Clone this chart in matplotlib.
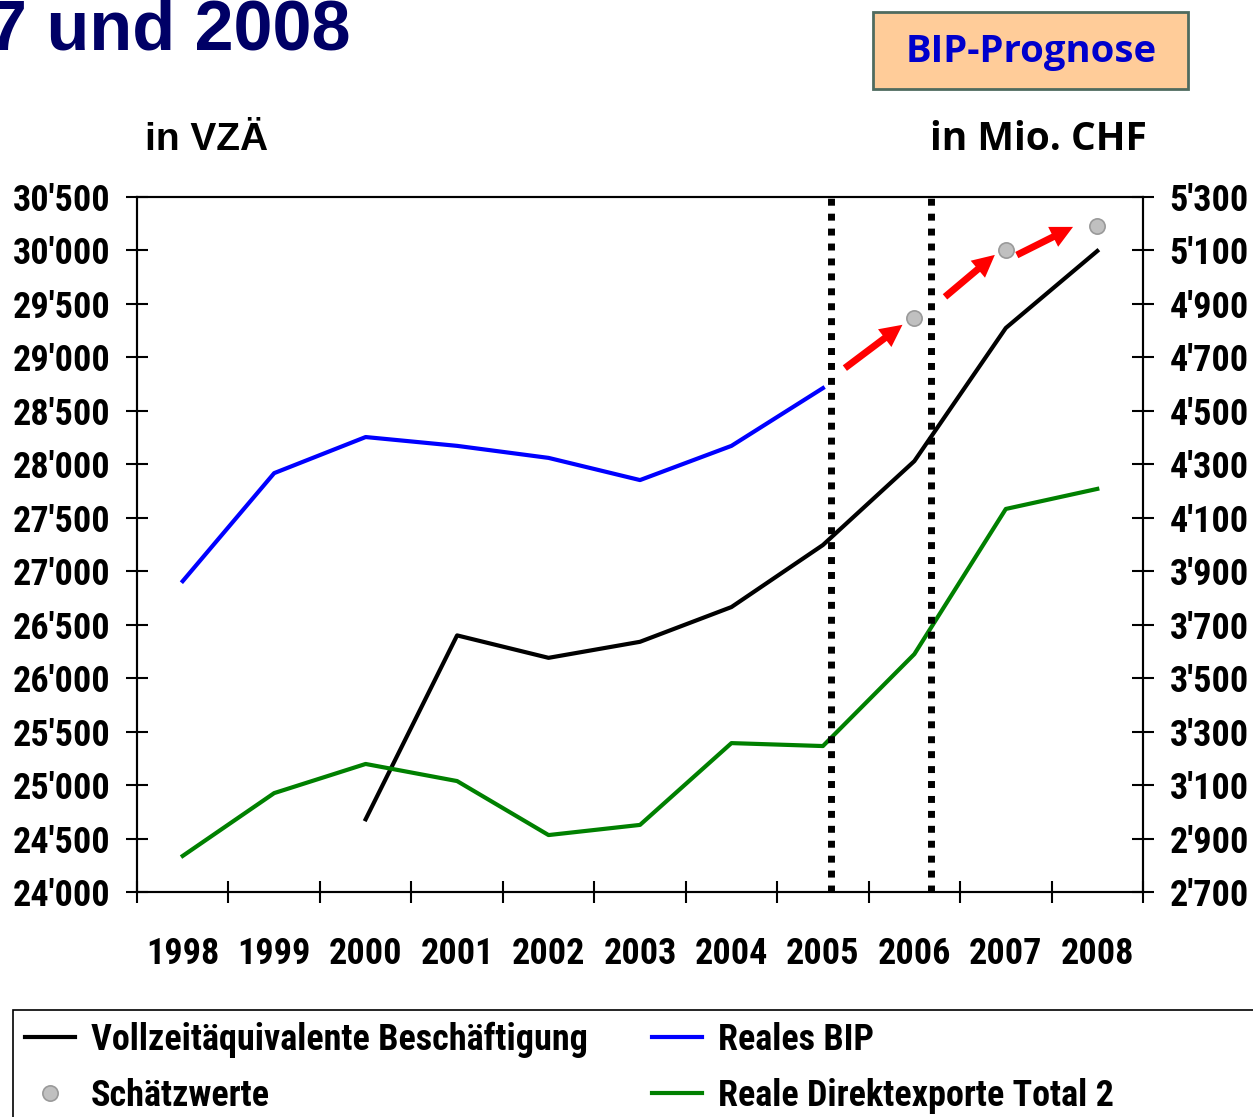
import numpy as np
import matplotlib
matplotlib.use('Agg')
import matplotlib.pyplot as plt
from matplotlib.ticker import FuncFormatter
from matplotlib.lines import Line2D
from matplotlib.patches import Rectangle, FancyArrowPatch
from matplotlib import font_manager as fm

# ---------------- data ----------------
years = ['1998', '1999', '2000', '2001', '2002', '2003', '2004', '2005', '2006', '2007', '2008']
# Vollzeitäquivalente Beschäftigung (left axis, VZÄ), from 2000
vza = [np.nan, np.nan, 24680, 26400, 26190, 26340, 26665, 27245, 28030, 29275, 29995]
# Reales BIP (right axis, Mio. CHF), 1998-2005
bip = [3863, 4267, 4402, 4369, 4324, 4241, 4369, 4585]
# Reale Direktexporte Total 2 (right axis)
exports = [2835, 3070, 3179, 3115, 2913, 2951, 3257, 3246, 3590, 4133, 4208]
# Schätzwerte (BIP estimates) 2006-2008
estimates = [4847, 5102, 5192]

left_ticks = list(range(24000, 30501, 500))
right_ticks = list(range(2700, 5301, 200))

W, H = 1253, 1117
fig = plt.figure(figsize=(W / 100, H / 100), dpi=100)

def px(x, y):
    return x / W, 1 - y / H

names = {f.name for f in fm.fontManager.ttflist}
narrow_pick = None
for cand in ['Liberation Sans Narrow', 'DejaVu Sans Condensed', 'Roboto Condensed']:
    if cand in names:
        narrow_pick = cand
        break
narrow = [narrow_pick or 'Liberation Sans', 'DejaVu Sans']
arial = ['Liberation Sans', 'DejaVu Sans']
opens = ['Open Sans', 'DejaVu Sans']

x0, y0 = px(137, 892)
x1, y1 = px(1143, 197)
ax = fig.add_axes([x0, y0, x1 - x0, y1 - y0])
ax2 = ax.twinx()

n = len(years)
xs = np.arange(n)

# lines
ax.plot(xs, vza, color='black', lw=3, zorder=3)
ax2.plot(xs[:len(bip)], bip, color='#0000FF', lw=3, zorder=3)
ax2.plot(xs, exports, color='#008000', lw=3, zorder=3)
est_x = xs[n - len(estimates):]
ax2.plot(est_x, estimates, ls='none', marker='o', ms=11, mfc='#C0C0C0',
         mec='#9A9A9A', mew=1.2, zorder=5)

# red arrows between last BIP value and estimates
chain_x = [xs[len(bip) - 1]] + list(est_x)
chain_y = [bip[-1]] + list(estimates)
fracs = [(0.24, 0.87, 12, 9), (0.335, 0.88, -6, 12), (0.12, 0.735, -30, 20)]
for i, (f0, f1, dy0, dy1) in enumerate(fracs):
    xa, ya = chain_x[i], chain_y[i]
    xb, yb = chain_x[i + 1], chain_y[i + 1]
    tail = (xa + f0 * (xb - xa), ya + f0 * (yb - ya) + dy0)
    tip = (xa + f1 * (xb - xa), ya + f1 * (yb - ya) + dy1)
    arr = FancyArrowPatch(tail, tip, arrowstyle='simple,tail_width=5,head_width=16,head_length=16',
                          mutation_scale=1, color='#FF0000', lw=0, zorder=6,
                          shrinkA=0, shrinkB=0)
    ax2.add_patch(arr)

# dotted vertical lines (forecast separators)
for xv in [7.09, 8.18]:
    ax2.axvline(xv, color='black', lw=5, ls=(0, (1.0, 1.15)), zorder=7)

# axes limits / ticks
ax.set_xlim(-0.5, n - 0.5)
ax.set_ylim(left_ticks[0], left_ticks[-1])
ax2.set_ylim(right_ticks[0], right_ticks[-1])

fmt = FuncFormatter(lambda v, p: f"{int(round(v)):,}".replace(',', "'"))
ax.set_yticks(left_ticks)
ax.yaxis.set_major_formatter(fmt)
ax2.set_yticks(right_ticks)
ax2.yaxis.set_major_formatter(fmt)

ax.set_xticks(np.arange(-0.5, n, 1.0))
ax.set_xticklabels([])
ax.set_xticks(xs, minor=True)
ax.set_xticklabels(years, minor=True)

TICK_SIZE = 26 if narrow_pick else 23
for lab in ax.get_yticklabels() + ax2.get_yticklabels() + ax.get_xticklabels(minor=True):
    lab.set_fontfamily(narrow)
    lab.set_fontweight('bold')
    lab.set_fontsize(TICK_SIZE)

ax.tick_params(axis='y', direction='inout', length=16, width=1.5, pad=11)
ax2.tick_params(axis='y', direction='inout', length=16, width=1.5, pad=11)
ax.tick_params(axis='x', which='major', direction='inout', length=16, width=1.5)
ax.tick_params(axis='x', which='minor', length=0, pad=32)

for a in (ax, ax2):
    for s in a.spines.values():
        s.set_linewidth(1.5)
        s.set_color('black')

# titles and texts
fig.text(*px(350, 50), '7 und 2008', ha='right', va='baseline', color='#000066',
         family=arial, weight='bold', size=50.5)
fig.text(*px(145, 150), 'in VZÄ', ha='left', va='baseline', color='black',
         family=arial, weight='bold', size=28)
fig.text(*px(930, 150), 'in Mio. CHF', ha='left', va='baseline', color='black',
         family=opens, weight='bold', size=28)

bx0, by0 = px(873, 89)
bx1, by1 = px(1188, 12)
fig.add_artist(Rectangle((bx0, by0), bx1 - bx0, by1 - by0, transform=fig.transFigure,
                         facecolor='#FFCC99', edgecolor='#4F6B5F', lw=2))
fig.text(*px(1031, 52), 'BIP-Prognose', ha='center', va='center', color='#0000CC',
         family=opens, weight='bold', size=27.5)

# legend frame (extends beyond figure)
lx0, ly0 = px(13, 1130)
lx1, ly1 = px(1270, 1010)
fig.add_artist(Rectangle((lx0, ly0), lx1 - lx0, ly1 - ly0, transform=fig.transFigure,
                         facecolor='white', edgecolor='black', lw=1.2))

handles = [
    Line2D([], [], color='black', lw=3),
    Line2D([], [], ls='none', marker='o', ms=11, mfc='#C0C0C0', mec='#9A9A9A', mew=1.2),
    Line2D([], [], color='#0000FF', lw=3),
    Line2D([], [], color='#008000', lw=3),
]
labels = ['Vollzeitäquivalente Beschäftigung', 'Schätzwerte', 'Reales BIP',
          'Reale Direktexporte Total 2']
LEG_SIZE = 26 if narrow_pick else 22.5
leg = fig.legend(handles, labels, ncol=2, loc='upper left', bbox_to_anchor=px(14, 1011),
                 frameon=False, prop=dict(family=narrow, weight='bold', size=LEG_SIZE),
                 handlelength=1.38, handletextpad=0.44, columnspacing=1.8,
                 labelspacing=0.55, borderpad=0.3, borderaxespad=0)

fig.savefig('out.png', dpi=100)
